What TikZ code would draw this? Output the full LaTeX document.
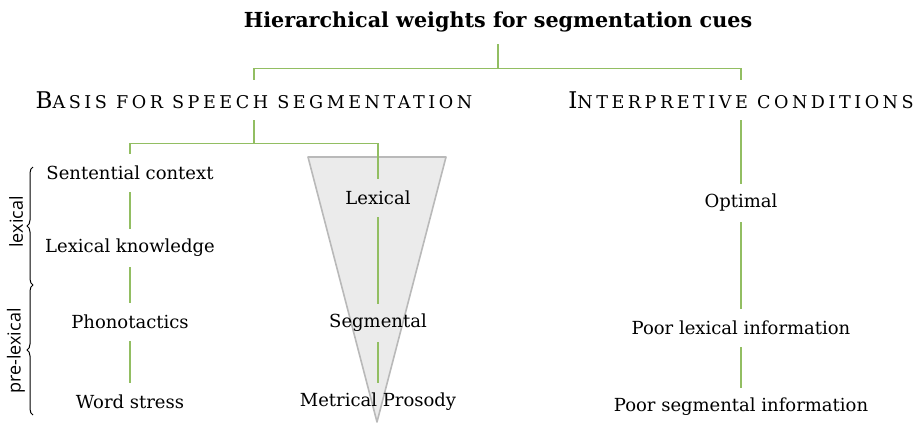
\documentclass[tikz,border=0pt]{standalone}
\usepackage{fontspec}
\setmainfont{DejaVu Serif}
\newfontfamily\sidefont{Open Sans}
\newfontfamily\spacedfont[LetterSpace=20]{DejaVu Serif}
\usetikzlibrary{positioning}
\usetikzlibrary{decorations.pathreplacing}
\definecolor{cuegreen}{RGB}{146,190,98}
\definecolor{funnelgray}{RGB}{235,235,235}
\newcommand{\fakesc}[2]{{\spacedfont\fontsize{11.5}{13}\selectfont #1\fontsize{8.8}{10}\selectfont #2}}
\tikzset{
  title/.style={font=\bfseries\fontsize{10.35}{12}\selectfont, minimum height=22pt, inner sep=0pt},
  heading/.style={minimum height=20pt, inner sep=0pt},
  cue/.style={font=\fontsize{9}{11}\selectfont, minimum height=19pt, inner sep=0pt},
  link/.style={draw=cuegreen, line width=0.75pt},
  side/.style={font=\sidefont\fontsize{9}{11}\selectfont, rotate=90},
  bracket/.style={decorate, decoration={brace, amplitude=3pt}, line width=0.5pt}
}

\begin{document}
\begin{tikzpicture}[x=0.5pt, y=-0.5pt]
  \useasboundingbox (0,0) rectangle (915,423);

  % funnel behind the cue weights
  \fill [funnelgray] (308,157) -- (446,157) -- (377,422) -- cycle;
  \draw [gray!55, line width=0.8pt, line join=round] (308,157) -- (446,157) -- (377,422) -- cycle;

  % headings
  \node [title] (title) at (498,22) {Hierarchical weights for segmentation cues};
  \node [heading] (basis) at (254,100) {\fakesc{B}{ASIS FOR SPEECH SEGMENTATION}};
  \node [heading] (interp) at (741,100) {\fakesc{I}{NTERPRETIVE CONDITIONS}};

  % cue columns
  \foreach \n/\t/\y in {sent/Sentential context/173, know/Lexical knowledge/248,
                        phon/Phonotactics/322, stress/Word stress/402} {
    \node [cue] (\n) at (130,\y) {\t};
  }
  \foreach \n/\t/\y in {lex/Lexical/198, seg/Segmental/323, metr/Metrical Prosody/402} {
    \node [cue] (\n) at (378,\y) {\t};
  }
  \foreach \n/\t/\y in {opt/Optimal/203, poorlex/Poor lexical information/328,
                        poorseg/Poor segmental information/407} {
    \node [cue] (\n) at (741,\y) {\t};
  }

  % tree connectors
  \draw [link] (title.south) -- ++(0,24) -| (basis.north);
  \draw [link] (title.south) -- ++(0,24) -| (interp.north);
  \draw [link] (basis.south) -- ++(0,23) -| (sent.north);
  \draw [link] (basis.south) -- ++(0,23) -| (lex.north);
  \foreach \a/\b in {sent/know, know/phon, phon/stress, lex/seg, seg/metr,
                     interp/opt, opt/poorlex, poorlex/poorseg} {
    \draw [link] (\a) -- (\b);
  }

  % lexical / pre-lexical groups
  \draw [bracket] (33,285) -- (33,167);
  \draw [bracket] (33,415) -- (33,285);
  \node [side] (lexgroup) at (16,222) {lexical};
  \node [side] (pregroup) at (16,351) {pre-lexical};

\end{tikzpicture}
\end{document}
